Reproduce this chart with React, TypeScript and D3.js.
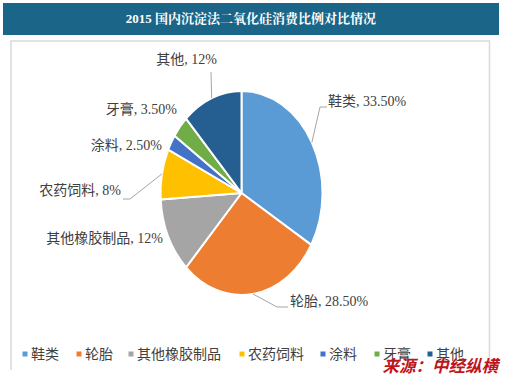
import React from "react";
import * as d3 from "d3";

const categories = ["鞋类", "轮胎", "其他橡胶制品", "农药饲料", "涂料", "牙膏", "其他"];
const values = [33.5, 28.5, 12, 8, 2.5, 3.5, 12];
const valueLabels = ["33.50%", "28.50%", "12%", "8%", "2.50%", "3.50%", "12%"];
const colors = ["#5B9BD5", "#ED7D31", "#A5A5A5", "#FFC000", "#4472C4", "#70AD47", "#255E91"];
const title = "2015 国内沉淀法二氧化硅消费比例对比情况";
const source = "来源：中经纵横";

// label layout: text anchor point and leader elbow (relative layout, px)
const labelLayout = [
  { x: 328, y: 103, anchor: "start", elbow: [320, 107], end: [327, 107] },
  { x: 290, y: 303, anchor: "start", elbow: [277, 307], end: [288, 307] },
  { x: 163, y: 240, anchor: "end", elbow: null, end: null },
  { x: 121, y: 192, anchor: "end", elbow: [130, 199], end: [123, 199] },
  { x: 162, y: 147, anchor: "end", elbow: null, end: null },
  { x: 177, y: 111, anchor: "end", elbow: null, end: null },
  { x: 217, y: 61, anchor: "end", elbow: [211, 72], end: null },
];
const legendX = [25, 79, 131, 242, 323, 377, 430];

export default function App() {
  const W = 505, H = 379;
  const cx = 241.5, cy = 193, rx = 81, ry = 102;
  const pie = d3.pie<number>().sort(null).value((d) => d)(values);
  const arc = d3.arc<d3.PieArcDatum<number>>().innerRadius(0).outerRadius(rx);
  const pt = (a: number, k = 1) => [cx + rx * k * Math.sin(a), cy - ry * k * Math.cos(a)];
  const labelFont = "'Liberation Serif', 'Noto Sans CJK SC', serif";
  const cjkFont = "'Noto Sans CJK SC', sans-serif";
  return (
    <svg width={W} height={H} style={{ position: "absolute", left: 0, top: 0 }}>
      <rect width={W} height={H} fill="#fff" />
      <rect x={3} y={3} width={496} height={32} fill="#1B6688" />
      <text x={251} y={20} fill="#fff" fontFamily="'Liberation Serif', 'Noto Serif CJK SC', 'Noto Sans CJK SC', serif" fontWeight="bold" fontSize={13} textAnchor="middle" dominantBaseline="middle">{title}</text>
      <path d="M11,370 V41 H489.5 V370" fill="none" stroke="#d9d9d9" strokeWidth={1.5} />
      <g transform={`translate(${cx},${cy}) scale(1,${ry / rx})`}>
        {pie.map((p, i) => (
          <path key={i} d={arc(p) || ""} fill={colors[i]} stroke="#fff" strokeWidth={2} vectorEffect="non-scaling-stroke" strokeLinejoin="round" />
        ))}
      </g>
      {pie.map((p, i) => {
        const L = labelLayout[i];
        const mid = (p.startAngle + p.endAngle) / 2;
        const s = pt(mid, 1.0);
        const pts: number[][] = [s];
        if (L.elbow) pts.push(L.elbow);
        if (L.end) pts.push(L.end);
        return (
          <g key={i}>
            {L.elbow && (
              <polyline points={pts.map((q) => q.join(",")).join(" ")} fill="none" stroke="#A6A6A6" strokeWidth={1} />
            )}
            <text x={L.x} y={L.y} textAnchor={L.anchor as any} dominantBaseline="middle" fontFamily={labelFont} fontSize={14} fill="#404040">
              {categories[i]}, {valueLabels[i]}
            </text>
          </g>
        );
      })}
      {categories.map((c, i) => (
        <g key={c}>
          <rect x={legendX[i] - 2.5} y={351.5} width={5} height={5} fill={colors[i]} />
          <text x={legendX[i] + 6} y={355} dominantBaseline="middle" fontFamily={cjkFont} fontSize={14} fill="#404040">{c}</text>
        </g>
      ))}
      <text x={498} y={368} textAnchor="end" dominantBaseline="middle" fontFamily={cjkFont} fontWeight="bold" fontStyle="italic" fontSize={16.5} fill="#C0141C">{source}</text>
    </svg>
  );
}
